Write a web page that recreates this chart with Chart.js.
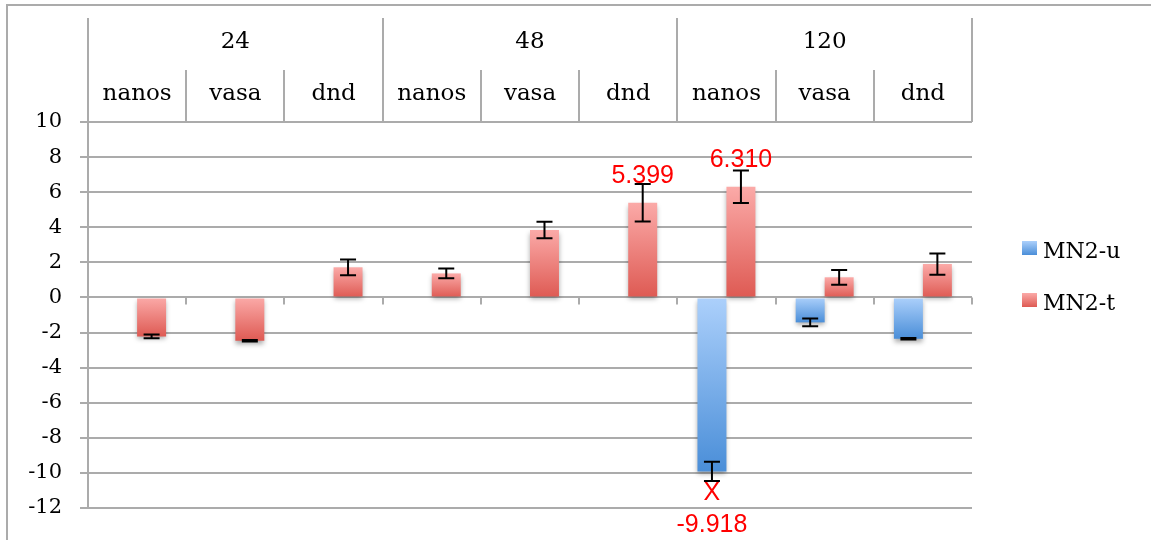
<!DOCTYPE html>
<html>
<head>
<meta charset="utf-8">
<style>
  html, body { margin: 0; padding: 0; background: #fff; }
  #wrap { width: 1151px; height: 540px; position: relative; }
</style>
<script src="https://cdn.jsdelivr.net/npm/chart.js@4/dist/chart.umd.min.js"></script>
</head>
<body>
<div id="wrap"><canvas id="chart" width="1151" height="540"></canvas></div>
<script>
// Categories: three time groups, each with three treatments
const groups = ['24', '48', '120'];
const subLabels = ['nanos', 'vasa', 'dnd', 'nanos', 'vasa', 'dnd', 'nanos', 'vasa', 'dnd'];

// Series values and their error bar half-widths
const mn2u = [null, null, null, null, null, null, -9.918, -1.42, -2.35];
const mn2uErr = [0, 0, 0, 0, 0, 0, 0.55, 0.22, 0.04];
const mn2t = [-2.22, -2.47, 1.72, 1.37, 3.85, 5.399, 6.31, 1.15, 1.9];
const mn2tErr = [0.11, 0.04, 0.45, 0.28, 0.47, 1.07, 0.93, 0.42, 0.6];

// Y axis ticks
const yMin = -12;
const yMax = 10;
const yStep = 2;

// Red text labels written on the chart
const notes = [
    { dataset: 1, index: 5, lines: ['5.399'] },
    { dataset: 1, index: 6, lines: ['6.310'] },
    { dataset: 0, index: 6, lines: ['X', '-9.918'] }
];

const GRID = '#ababab';
const SERIF = '"DejaVu Serif", serif';
const blueLight = '#acd0fb', blueDark = '#4a8ed8';
const redLight = '#fbaaa8', redDark = '#de5a53';

function barGradient(light, dark) {
    return function(ctx) {
        const chart = ctx.chart;
        if (!chart.chartArea || ctx.type !== 'data' || ctx.raw == null) return dark;
        const y = chart.scales.y;
        const top = y.getPixelForValue(Math.max(ctx.raw, 0));
        const bottom = y.getPixelForValue(Math.min(ctx.raw, 0));
        const g = chart.ctx.createLinearGradient(0, top, 0, bottom);
        g.addColorStop(0, light);
        g.addColorStop(1, dark);
        return g;
    };
}

// border, header table, zero-line ticks, shadows, error bars, labels, legend
const decorations = {
    id: 'decorations',
    beforeDraw(chart) {
        const c = chart.ctx;
        c.save();
        c.strokeStyle = GRID;
        c.lineWidth = 2;
        c.beginPath();
        c.moveTo(7, 540); c.lineTo(7, 5); c.lineTo(1151, 5);
        c.stroke();
        c.restore();
    },
    beforeDatasetsDraw(chart) {
        const c = chart.ctx;
        c.save();
        c.shadowColor = 'rgba(0,0,0,0.35)';
        c.shadowBlur = 5;
        c.shadowOffsetY = 3;
    },
    afterDatasetsDraw(chart) {
        const c = chart.ctx;
        c.restore();
        const x = chart.scales.x, y = chart.scales.y;
        const area = chart.chartArea;
        const cw = (x.right - x.left) / subLabels.length;

        // ticks on the zero line
        const y0 = y.getPixelForValue(0);
        c.save();
        c.strokeStyle = GRID;
        c.lineWidth = 2;
        for (let i = 1; i <= subLabels.length; i++) {
            const bx = Math.round(x.left + i * cw);
            c.beginPath(); c.moveTo(bx, y0); c.lineTo(bx, y0 + 7); c.stroke();
        }
        c.restore();

        // error bars
        const errs = [mn2uErr, mn2tErr];
        c.save();
        c.strokeStyle = '#000';
        c.lineWidth = 2;
        chart.data.datasets.forEach((ds, di) => {
            const meta = chart.getDatasetMeta(di);
            meta.data.forEach((bar, i) => {
                const v = ds.data[i];
                if (v == null) return;
                const e = errs[di][i];
                const hi = y.getPixelForValue(v + e), lo = y.getPixelForValue(v - e);
                c.beginPath();
                c.moveTo(bar.x, hi); c.lineTo(bar.x, lo);
                c.moveTo(bar.x - 8, hi); c.lineTo(bar.x + 8, hi);
                c.moveTo(bar.x - 8, lo); c.lineTo(bar.x + 8, lo);
                c.stroke();
            });
        });
        c.restore();

        // red notes
        c.save();
        c.fillStyle = '#ff0000';
        c.font = '25px "Liberation Sans", sans-serif';
        c.textAlign = 'center';
        c.textBaseline = 'alphabetic';
        notes.forEach(n => {
            const bar = chart.getDatasetMeta(n.dataset).data[n.index];
            const v = chart.data.datasets[n.dataset].data[n.index];
            const py = y.getPixelForValue(v);
            if (v >= 0) {
                c.fillText(n.lines[0], bar.x, py - 20);
            } else {
                n.lines.forEach((t, k) => c.fillText(t, bar.x, py + 29 + k * 32));
            }
        });
        c.restore();

        // header table
        c.save();
        c.strokeStyle = GRID;
        c.lineWidth = 2;
        for (let i = 0; i <= subLabels.length; i++) {
            const bx = Math.round(x.left + i * cw);
            const topY = (i % 3 === 0) ? 18 : 70;
            c.beginPath(); c.moveTo(bx, topY); c.lineTo(bx, area.top); c.stroke();
        }
        c.fillStyle = '#000';
        c.font = '23px ' + SERIF;
        c.textAlign = 'center';
        c.textBaseline = 'alphabetic';
        groups.forEach((g, gi) => {
            c.fillText(g, x.left + (gi * 3 + 1.5) * cw, 48);
        });
        subLabels.forEach((s, i) => {
            c.fillText(s, x.left + (i + 0.5) * cw, 100);
        });
        c.restore();

        // legend
        c.save();
        c.font = '22px ' + SERIF;
        c.textAlign = 'left';
        c.textBaseline = 'alphabetic';
        const cols = [[blueLight, blueDark], [redLight, redDark]];
        chart.data.datasets.forEach((ds, di) => {
            const top = 241 + di * 52;
            const g = c.createLinearGradient(0, top, 0, top + 14);
            g.addColorStop(0, cols[di][0]);
            g.addColorStop(1, cols[di][1]);
            c.fillStyle = g;
            c.fillRect(1022, top, 15, 14);
            c.fillStyle = '#000';
            c.fillText(ds.label, 1043, top + 17);
        });
        c.restore();
    }
};

new Chart(document.getElementById('chart'), {
    type: 'bar',
    data: {
        labels: subLabels,
        datasets: [
            {
                label: 'MN2-u',
                data: mn2u,
                backgroundColor: barGradient(blueLight, blueDark),
                categoryPercentage: 0.59,
                barPercentage: 1
            },
            {
                label: 'MN2-t',
                data: mn2t,
                backgroundColor: barGradient(redLight, redDark),
                categoryPercentage: 0.59,
                barPercentage: 1
            }
        ]
    },
    options: {
        responsive: false,
        animation: false,
        devicePixelRatio: 1,
        layout: { padding: { top: 122, right: 179, bottom: 32, left: 0 } },
        plugins: {
            legend: { display: false },
            tooltip: { enabled: false }
        },
        scales: {
            x: { display: false },
            y: {
                min: yMin,
                max: yMax,
                afterFit(scale) { scale.width = 88; },
                ticks: {
                    stepSize: yStep,
                    padding: 18,
                    color: '#000',
                    font: { family: SERIF, size: 21 }
                },
                grid: { color: GRID, lineWidth: 2, tickLength: 8 },
                border: { color: GRID, width: 2 }
            }
        }
    },
    plugins: [decorations]
});
</script>
</body>
</html>
